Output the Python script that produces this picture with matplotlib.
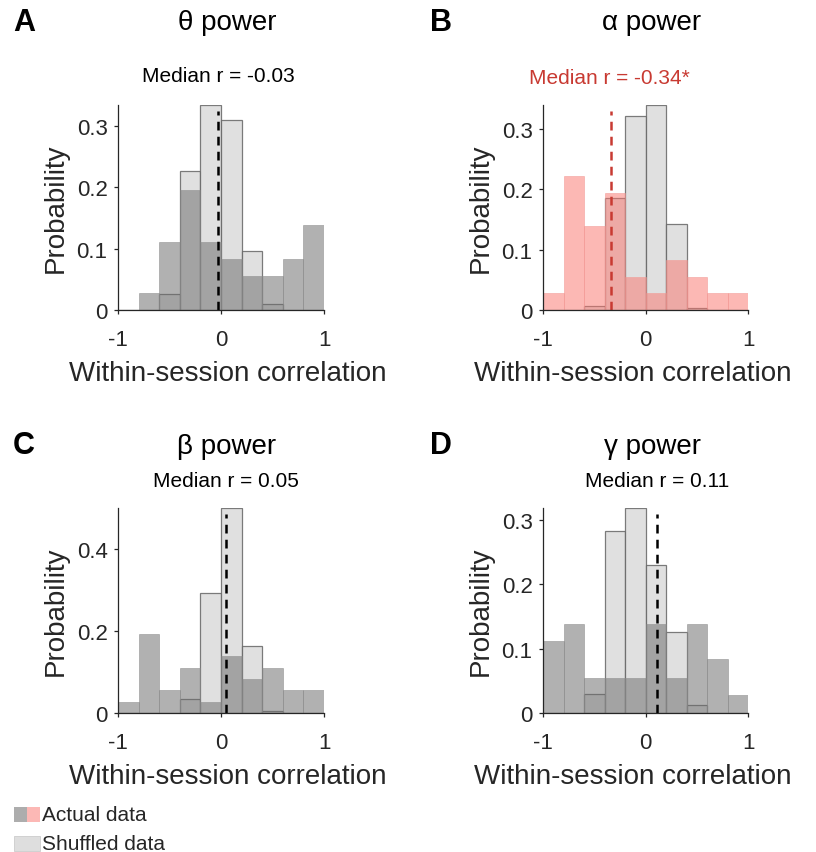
import matplotlib.pyplot as plt
import matplotlib.patches as mpatches
import numpy as np

plt.rcParams['font.family'] = ['Liberation Sans', 'DejaVu Sans']

# bin edges of all histograms
edges = np.linspace(-1, 1, 11)

# probabilities per bin
theta_actual = [0.0, 0.028, 0.111, 0.195, 0.111, 0.083, 0.055, 0.055, 0.083, 0.139]
theta_shuf = [0.0, 0.0, 0.026, 0.227, 0.334, 0.310, 0.096, 0.009, 0.0, 0.0]
alpha_actual = [0.028, 0.222, 0.139, 0.194, 0.055, 0.028, 0.083, 0.055, 0.028, 0.028]
alpha_shuf = [0.0, 0.0, 0.007, 0.186, 0.321, 0.340, 0.142, 0.004, 0.0, 0.0]
beta_actual = [0.027, 0.193, 0.055, 0.110, 0.027, 0.138, 0.082, 0.110, 0.055, 0.055]
beta_shuf = [0.0, 0.0, 0.0, 0.034, 0.293, 0.500, 0.163, 0.006, 0.0, 0.0]
gamma_actual = [0.111, 0.138, 0.055, 0.055, 0.055, 0.138, 0.055, 0.138, 0.083, 0.028]
gamma_shuf = [0.0, 0.0, 0.030, 0.283, 0.318, 0.230, 0.126, 0.012, 0.0, 0.0]

medians = [-0.03, -0.34, 0.05, 0.11]
titles = ['θ power', 'α power', 'β power', 'γ power']
median_txt = ['Median r = -0.03', 'Median r = -0.34*', 'Median r = 0.05', 'Median r = 0.11']
letters = ['A', 'B', 'C', 'D']
yticks = [[0, 0.1, 0.2, 0.3], [0, 0.1, 0.2, 0.3], [0, 0.2, 0.4], [0, 0.1, 0.2, 0.3]]

W, H = 816, 853
fig = plt.figure(figsize=(W / 100, H / 100), dpi=100)

red = '#c83a32'
axcol = '#262626'

# axes boxes in pixels: left, top, right, bottom
boxes = [(118, 106, 324, 311), (543, 106, 748, 311),
         (118, 509, 324, 714), (543, 509, 748, 714)]
# title / median / letter positions (pixels)
title_pos = [(227, 23), (652, 23), (227, 447), (652, 447)]
med_pos = [(218, 77), (609, 78), (226, 482), (657, 482)]
letter_pos = [(13, 23), (430, 23), (13, 446), (430, 446)]
xlabel_x = [0.534, 0.44, 0.534, 0.44]

data = [(theta_actual, theta_shuf), (alpha_actual, alpha_shuf),
        (beta_actual, beta_shuf), (gamma_actual, gamma_shuf)]

for i in range(4):
    l, t, r, b = boxes[i]
    ax = fig.add_axes([l / W, 1 - b / H, (r - l) / W, (b - t) / H])
    act, shuf = data[i]
    widths = np.diff(edges)
    ax.bar(edges[:-1], shuf, width=widths, align='edge',
           color=(0.86, 0.86, 0.86), edgecolor=(0.4, 0.4, 0.4), linewidth=0.9, alpha=0.85)
    if i == 1:
        fc, ec = (0.98, 0.45, 0.42, 0.5), (0.95, 0.6, 0.58, 0.6)
    else:
        fc, ec = (0.42, 0.42, 0.42, 0.52), (0.55, 0.55, 0.55, 0.6)
    ax.bar(edges[:-1], act, width=widths, align='edge', color=fc, edgecolor=ec, linewidth=0.6)
    ymax = max(max(act), max(shuf))
    lc = red if i == 1 else 'black'
    ax.plot([medians[i], medians[i]], [0, ymax * 0.97], color=lc, linestyle=(0, (3.5, 2.5)), linewidth=1.8)
    ax.set_xlim(-1, 1)
    ax.set_ylim(0, ymax)
    ax.set_xticks([-1, 0, 1])
    ax.set_xticklabels(['-1', '0', '1'])
    ax.set_yticks(yticks[i])
    ax.set_yticklabels([('%g' % v) for v in yticks[i]])
    for s in ['top', 'right']:
        ax.spines[s].set_visible(False)
    for s in ['left', 'bottom']:
        ax.spines[s].set_color(axcol)
        ax.spines[s].set_linewidth(0.9)
    ax.tick_params(direction='out', length=3, width=0.9, color=axcol, labelcolor=axcol,
                   labelsize=16)
    ax.tick_params(axis='x', pad=11)
    ax.tick_params(axis='y', pad=4.5)
    ax.set_xlabel('Within-session correlation', fontsize=20, color=axcol)
    ax.xaxis.set_label_coords(xlabel_x[i], -0.245, transform=ax.transAxes)
    ax.set_ylabel('Probability', fontsize=20, color=axcol, labelpad=6)

    fig.text(title_pos[i][0] / W, 1 - title_pos[i][1] / H, titles[i], fontsize=20,
             ha='center', va='center', color='black')
    fig.text(med_pos[i][0] / W, 1 - med_pos[i][1] / H, median_txt[i], fontsize=15,
             ha='center', va='center', color=red if i == 1 else 'black')
    fig.text(letter_pos[i][0] / W, 1 - letter_pos[i][1] / H, letters[i], fontsize=22,
             fontweight='bold', ha='left', va='center')

# legend at bottom left
def frect(x, y, w, h, c, ec='none'):
    fig.add_artist(mpatches.Rectangle((x / W, 1 - (y + h) / H), w / W, h / H,
                                      transform=fig.transFigure, facecolor=c, edgecolor=ec, lw=0.6))

frect(14, 808, 13, 15, (0.68, 0.68, 0.68))
frect(27, 808, 13, 15, (0.99, 0.72, 0.71))
frect(14, 837, 26, 15, (0.87, 0.87, 0.87), ec=(0.8, 0.8, 0.8))
fig.text(42 / W, 1 - 816 / H, 'Actual data', fontsize=15, va='center', ha='left', color=axcol)
fig.text(42 / W, 1 - 845 / H, 'Shuffled data', fontsize=15, va='center', ha='left', color=axcol)

fig.savefig('out.png', dpi=100)
